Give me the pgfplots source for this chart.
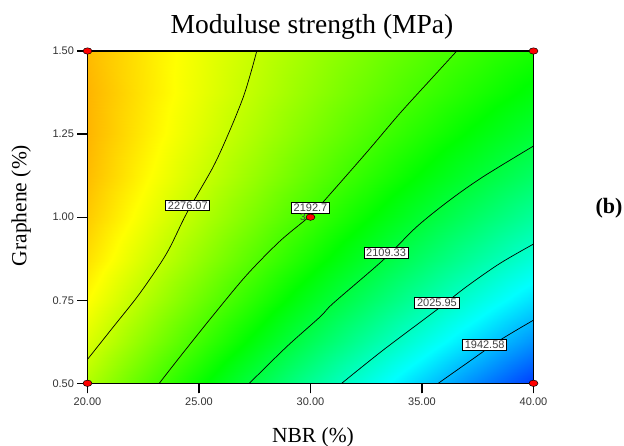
\documentclass[border=0pt]{standalone}
\usepackage{pgfplots}
\usepackage{pgfplotstable}
\pgfplotsset{compat=1.18}
\usepackage{fontspec}
\setmainfont{Liberation Serif}
\newfontfamily\sansfont{Liberation Sans}

% response surface, read off the colour field: NBR, Graphene, modulus
\pgfplotstableread{
nbr g m
20 0.5 2262.5
22.5 0.5 2208.9
25 0.5 2156.3
27.5 0.5 2104.7
30 0.5 2054.2
32.5 0.5 2004.7
35 0.5 1956.3
37.5 0.5 1908.9
40 0.5 1862.5
20 0.625 2290.2
22.5 0.625 2239.8
25 0.625 2190.5
27.5 0.625 2142.2
30 0.625 2094.9
32.5 0.625 2048.7
35 0.625 2003.5
37.5 0.625 1959.3
40 0.625 1916.2
20 0.75 2313.4
22.5 0.75 2266.2
25 0.75 2220.1
27.5 0.75 2175.1
30 0.75 2131.1
32.5 0.75 2088.1
35 0.75 2046.1
37.5 0.75 2005.2
40 0.75 1965.4
20 0.875 2332.0
22.5 0.875 2288.1
25 0.875 2245.2
27.5 0.875 2203.4
30 0.875 2162.7
32.5 0.875 2122.9
35 0.875 2084.2
37.5 0.875 2046.6
40 0.875 2010.0
20 1 2346.0
22.5 1 2305.4
25 1 2265.8
27.5 1 2227.2
30 1 2189.7
32.5 1 2153.2
35 1 2117.8
37.5 1 2083.4
40 1 2050.0
20 1.125 2355.5
22.5 1.125 2318.1
25 1.125 2281.8
27.5 1.125 2246.5
30 1.125 2212.2
32.5 1.125 2179.0
35 1.125 2146.8
37.5 1.125 2115.6
40 1.125 2085.5
20 1.25 2360.5
22.5 1.25 2326.3
25 1.25 2293.2
27.5 1.25 2261.2
30 1.25 2230.2
32.5 1.25 2200.2
35 1.25 2171.2
37.5 1.25 2143.3
40 1.25 2116.5
20 1.375 2360.9
22.5 1.375 2330.0
25 1.375 2300.1
27.5 1.375 2271.3
30 1.375 2243.6
32.5 1.375 2216.8
35 1.375 2191.1
37.5 1.375 2166.5
40 1.375 2142.9
20 1.5 2356.7
22.5 1.5 2329.1
25 1.5 2302.5
27.5 1.5 2276.9
30 1.5 2252.4
32.5 1.5 2228.9
35 1.5 2206.5
37.5 1.5 2185.1
40 1.5 2164.7
}\surfdata

\begin{document}
\begin{tikzpicture}
\begin{axis}[
  view={0}{90},
  width=446pt, height=332.3pt, scale only axis,
  xmin=20, xmax=40, ymin=0.5, ymax=1.5,
  ztick=\empty,
  xtick={20,25,30,35,40},
  ytick={0.5,0.75,1,1.25,1.5},
  xtick pos=lower, ytick pos=lower,
  tick align=outside, major tick length=10pt,
  tick style={black, line width=1.2pt},
  axis line style={line width=1.2pt},
  /pgf/number format/assume math mode=true,
  tick label style={font=\sansfont\fontsize{11}{12}\selectfont, text=black!80,
    /pgf/number format/.cd, fixed, fixed zerofill, precision=2, /tikz/.cd},
  xticklabel style={yshift=-1pt},
  clip=false,
  colormap={de}{rgb255(0pt)=(0,0,255) rgb255(160pt)=(0,255,255)
    rgb255(325pt)=(0,255,0) rgb255(488pt)=(255,255,0) rgb255(652pt)=(255,0,0)},
  point meta min=1825, point meta max=2477,
]
\addplot3[surf, shader=interp, mesh/cols=9, point meta=\thisrow{m}]
  table[x=nbr, y=g, z=m] {\surfdata};

% contour lines
\addplot3[black, line width=0.7pt, smooth] coordinates {
 (20,0.572,2276.07) (21.16,0.670,2276.07) (22.35,0.771,2276.07) (23.55,0.891,2276.07)
 (24.45,1.012,2276.07) (25.64,1.152,2276.07) (26.39,1.262,2276.07) (26.99,1.362,2276.07)
 (27.36,1.443,2276.07) (27.59,1.5,2276.07)};
\addplot3[black, line width=0.7pt, smooth] coordinates {
 (23.22,0.5,2192.7) (24.15,0.580,2192.7) (25.64,0.705,2192.7) (27.14,0.826,2192.7)
 (28.63,0.928,2192.7) (30.0,1.005,2192.7) (30.73,1.058,2192.7) (32.52,1.195,2192.7)
 (34.01,1.3125,2192.7) (35.51,1.423,2192.7) (36.56,1.5,2192.7)};
\addplot3[black, line width=0.7pt, smooth] coordinates {
 (27.26,0.5,2109.33) (28.93,0.61,2109.33) (30.43,0.70,2109.33) (31.02,0.741,2109.33)
 (33.26,0.871,2109.33) (34.76,0.971,2109.33) (36.26,1.052,2109.33) (37.75,1.122,2109.33)
 (40,1.214,2109.33)};
\addplot3[black, line width=0.7pt, smooth] coordinates {
 (31.40,0.5,2025.95) (33.26,0.600,2025.95) (35.66,0.721,2025.95) (37.00,0.791,2025.95)
 (38.50,0.861,2025.95) (40,0.919,2025.95)};
\addplot3[black, line width=0.7pt, smooth] coordinates {
 (35.73,0.5,1942.58) (37.00,0.560,1942.58) (38.50,0.630,1942.58) (40,0.690,1942.58)};

\tikzset{clab/.style={fill=white, draw=black, line width=1pt, inner xsep=2.2pt,
  inner ysep=1.4pt, font=\sansfont\fontsize{11}{12}\selectfont, text=black!75}}
\node[clab] at (axis cs:24.50,1.035,2276.07) {2276.07};
\node[clab] at (axis cs:30.00,1.0275,2192.7) {2192.7};
\node[clab] at (axis cs:33.39,0.892,2109.33) {2109.33};
\node[clab] at (axis cs:35.67,0.742,2025.95) {2025.95};
\node[clab] at (axis cs:37.81,0.615,1942.58) {1942.58};

\draw[line width=1.2pt] (rel axis cs:0,0,0) rectangle (rel axis cs:1,1,0);

% design points
\addplot3[only marks, mark=*, mark size=3.2pt,
  mark options={fill=red, draw=black, line width=0.5pt, xscale=1.4}] coordinates {
 (20,0.5,2262.5) (40,0.5,1862.5) (20,1.5,2356.7) (40,1.5,2164.7) (30,1,2189.7)};
\node[anchor=east, inner sep=0pt, xshift=-4.5pt, font=\sansfont\fontsize{10}{11}\selectfont,
  text=black!75] at (axis cs:30,1,2189.7) {3};
\end{axis}
\node[anchor=base, font=\fontsize{27.5}{30}\selectfont] at (224.5pt,350pt) {Moduluse strength (MPa)};
\node[anchor=base, font=\fontsize{21.5}{24}\selectfont] at (225.5pt,-59.4pt) {NBR (\%)};
\node[anchor=base, rotate=90, font=\fontsize{21.5}{24}\selectfont] at (-61pt,177.8pt) {Graphene (\%)};
\node[anchor=base, font=\bfseries\fontsize{22}{24}\selectfont] at (521.5pt,170pt) {(b)};
\pgfresetboundingbox
\path[use as bounding box] (-87.5pt,-62.7pt) rectangle (536.5pt,383.3pt);
\end{tikzpicture}
\end{document}
